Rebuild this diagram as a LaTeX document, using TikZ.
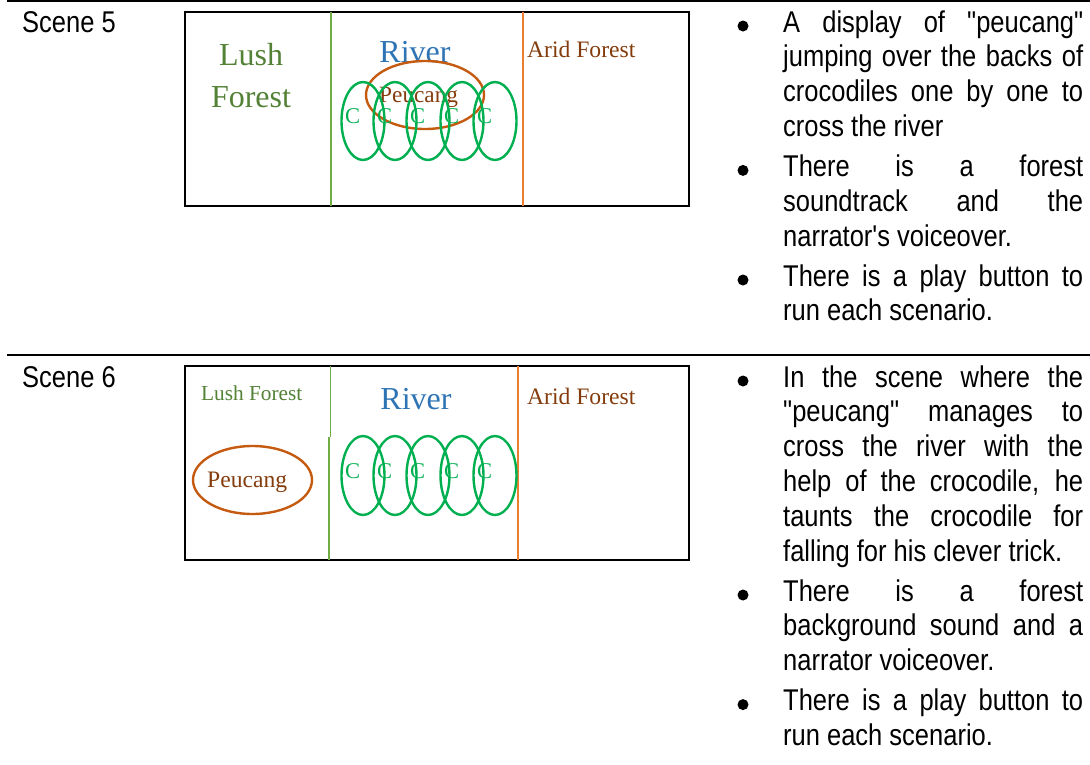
\documentclass[tikz,border=0pt]{standalone}
\usepackage{fontspec}
\setmainfont{Liberation Serif}
\newfontfamily\arialf[FakeStretch=0.85]{Liberation Sans}
\definecolor{lushgreen}{HTML}{538135}
\definecolor{riverblue}{HTML}{2E74B5}
\definecolor{aridbrown}{HTML}{843C0C}
\definecolor{peuorange}{HTML}{C55A11}
\definecolor{crocgreen}{HTML}{00B050}
\definecolor{divgreen}{HTML}{70AD47}
\definecolor{divorange}{HTML}{ED7D31}
\newcommand\jl[1]{\makebox[300pt][s]{#1}}
\newcommand\fsz[1]{\fontsize{#1}{#1}\selectfont}
\begin{document}
\begin{tikzpicture}[x=1pt,y=-1pt,
  sanstext/.style={anchor=base west, inner sep=0pt, font=\arialf\fsz{30}},
  bulletmark/.style={circle, fill=black, inner sep=0pt, minimum size=11pt},
  serift/.style={inner sep=0pt, font=\fsz{#1}},
  rule/.style={line width=2.5pt},
  scenebox/.style={draw=black, line width=2.5pt},
  croc/.style={draw=crocgreen, line width=2.4pt},
  peu/.style={draw=peuorange, line width=2.4pt},
  ctext/.style={anchor=base west, inner sep=0pt, text=crocgreen, font=\fsz{22.5}}
]
\useasboundingbox (0,0) rectangle (1090,764);

% table rules
\draw[rule] (7,1.2) -- (1090,1.2);
\draw[rule] (7,355) -- (1090,355);

% scene labels
\node[sanstext] (s5) at (22,32) {Scene 5};
\node[sanstext] (s6) at (22,387) {Scene 6};

% ================= Scene 5 diagram =================
\draw[scenebox] (185,12) rectangle (689,206);
\draw[divgreen, line width=2.2pt] (331,12) -- (331,206);
\draw[divorange, line width=2.2pt] (523,12) -- (523,206);
\node[serift=32, anchor=base, text=lushgreen] (l5a) at (251,65) {Lush};
\node[serift=32, anchor=base, text=lushgreen] (l5b) at (251,107) {Forest};
\node[serift=32, anchor=base, text=riverblue] (r5) at (415,62) {River};
\node[serift=23.6, anchor=base west, text=aridbrown] (a5) at (527,57) {Arid Forest};
\draw[peu] (425,95) ellipse [x radius=59, y radius=34];
\node[serift=23.3, anchor=base west, text=aridbrown] (p5) at (379,102) {Peucang};
\foreach \cx/\i in {363/1,395/2,428/3,462/4,495/5}{
  \draw[croc] (\cx,121) ellipse [x radius=21.5, y radius=39];
  \node[ctext] (c5\i) at (\cx-18,123) {C};
}

% ================= Scene 6 diagram =================
\draw[scenebox] (185,366) rectangle (689,560);
\draw[divgreen, line width=1pt] (330.5,366) -- (330.5,437);
\draw[divgreen, line width=2.2pt] (329,437) -- (329,560);
\draw[divorange, line width=2.2pt] (518,366) -- (518,560);
\node[serift=21.3, anchor=base west, text=lushgreen] (l6) at (201,400) {Lush Forest};
\node[serift=32, anchor=base, text=riverblue] (r6) at (416,409) {River};
\node[serift=23.6, anchor=base west, text=aridbrown] (a6) at (527,404) {Arid Forest};
\draw[peu] (252.5,480) ellipse [x radius=59.5, y radius=34];
\node[serift=23.6, anchor=base west, text=aridbrown] (p6) at (207,487) {Peucang};
\foreach \cx/\i in {363/1,395/2,428/3,462/4,495/5}{
  \draw[croc] (\cx,475.5) ellipse [x radius=21.5, y radius=39.5];
  \node[ctext] (c6\i) at (\cx-18,478) {C};
}

% ================= Scene 5 description =================
\node[bulletmark] (b51) at (743,26) {};
\node[sanstext] (t511) at (783,32) {\jl{A display of "peucang"}};
\node[sanstext] (t512) at (783,66.8) {\jl{jumping over the backs of}};
\node[sanstext] (t513) at (783,101.6) {\jl{crocodiles one by one to}};
\node[sanstext] (t514) at (783,136.4) {cross the river};
\node[bulletmark] (b52) at (743,170.4) {};
\node[sanstext] (t521) at (783,176.4) {\jl{There is a forest}};
\node[sanstext] (t522) at (783,211.2) {\jl{soundtrack and the}};
\node[sanstext] (t523) at (783,246) {narrator's voiceover.};
\node[bulletmark] (b53) at (743,280) {};
\node[sanstext] (t531) at (783,286) {\jl{There is a play button to}};
\node[sanstext] (t532) at (783,320.8) {run each scenario.};

% ================= Scene 6 description =================
\node[bulletmark] (b61) at (743,381) {};
\node[sanstext] (t611) at (783,387) {\jl{In the scene where the}};
\node[sanstext] (t612) at (783,421.8) {\jl{"peucang" manages to}};
\node[sanstext] (t613) at (783,456.6) {\jl{cross the river with the}};
\node[sanstext] (t614) at (783,491.4) {\jl{help of the crocodile, he}};
\node[sanstext] (t615) at (783,526.2) {\jl{taunts the crocodile for}};
\node[sanstext] (t616) at (783,561) {falling for his clever trick.};
\node[bulletmark] (b62) at (743,595) {};
\node[sanstext] (t621) at (783,601) {\jl{There is a forest}};
\node[sanstext] (t622) at (783,635.8) {\jl{background sound and a}};
\node[sanstext] (t623) at (783,670.6) {narrator voiceover.};
\node[bulletmark] (b63) at (743,704.6) {};
\node[sanstext] (t631) at (783,710.6) {\jl{There is a play button to}};
\node[sanstext] (t632) at (783,745.4) {run each scenario.};
\end{tikzpicture}
\end{document}
